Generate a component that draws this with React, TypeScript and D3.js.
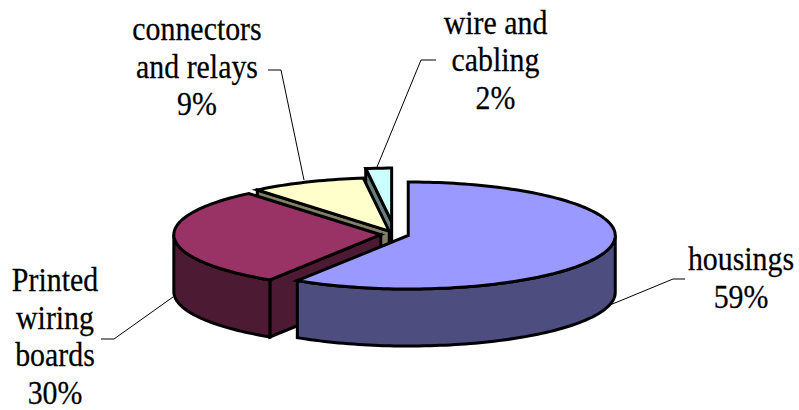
import React from 'react';
import * as d3 from 'd3';

// data
const labels = [['housings'], ['Printed', 'wiring', 'boards'], ['connectors', 'and relays'], ['wire and', 'cabling']];
const percents = [59, 30, 9, 2];
const explode = [14, 14, 14, 50];
const topColors = ['#9999ff', '#993366', '#ffffcc', '#ccffff'];
const sideColors = ['#4d4d80', '#4d1a33', '#808066', '#668080'];

// label layout
const labelX = [741, 55, 197, 495.5];
const labelY = [270, 291, 40, 33.5];
const leaders: [number, number][][] = [
  [[610, 305], [673, 279], [685, 279]],
  [[173, 297], [114, 339], [101, 339]],
  [[304, 180], [281, 70], [268, 70]],
  [[377, 167], [421, 60], [436, 60]],
];

const width = 799;
const height = 410;
const cx = 394.8;
const cy = 234.5;
const rx = 207;
const ry = 53.5;
const depth = 57;
const lineH = 37.7;

const pie = d3.pie<number>().value(d => d).sort(null);
const line = d3.line<[number, number]>();

const App: React.FC = () => {
  const slices = pie(percents).map((s, i) => {
    const mid = (s.startAngle + s.endAngle) / 2;
    const ox = cx + explode[i] * Math.sin(mid);
    const oy = cy - explode[i] * Math.cos(mid) * (ry / rx);
    const pt = (a: number, dy = 0): [number, number] => [ox + rx * Math.sin(a), oy - ry * Math.cos(a) + dy];
    const arcPts = (a0: number, a1: number, dy = 0) => {
      const n = Math.max(2, Math.ceil(Math.abs(a1 - a0) * 40));
      return d3.range(n + 1).map(k => pt(a0 + ((a1 - a0) * k) / n, dy));
    };
    const apex: [number, number] = [ox, oy];
    const top = line([apex, ...arcPts(s.startAngle, s.endAngle)]) + 'Z';
    const faces: string[] = [];
    // cut faces, drawn only when they turn towards the viewer
    const cut = (a: number) =>
      line([apex, pt(a), pt(a, depth), [ox, oy + depth]]) + 'Z';
    if (Math.sin(s.startAngle) < 0) faces.push(cut(s.startAngle));
    // outer rim, only the front half of the ellipse shows
    const a0 = Math.max(s.startAngle, Math.PI / 2);
    const a1 = Math.min(s.endAngle, (3 * Math.PI) / 2);
    if (a1 > a0) {
      faces.push(line([...arcPts(a0, a1), ...arcPts(a1, a0, depth)]) + 'Z');
    }
    return { top, faces, i };
  });

  // painter's order: back slices first
  const order = [3, 2, 1, 0];

  return (
    <svg width={width} height={height} style={{ position: 'absolute', left: 0, top: 0, background: '#fff' }}>
      {leaders.map((l, i) => (
        <path key={i} d={line(l) || ''} fill="none" stroke="#000" strokeWidth={1} />
      ))}
      {order.map(i => (
        <g key={i} stroke="#000" strokeWidth={3} strokeLinejoin="miter">
          {slices[i].faces.map((d, k) => (
            <path key={k} d={d} fill={sideColors[i]} />
          ))}
          <path d={slices[i].top} fill={topColors[i]} />
        </g>
      ))}
      {labels.map((rows, i) =>
        [...rows, `${percents[i]}%`].map((r, k) => (
          <text
            key={`${i}-${k}`}
            textAnchor="middle"
            fontFamily="'Liberation Serif'"
            fontSize={33}
            fill="#000"
            stroke="#000"
            strokeWidth={0.25}
            transform={`translate(${labelX[i]},${labelY[i] + k * lineH}) scale(0.905,1)`}
          >
            {r}
          </text>
        ))
      )}
    </svg>
  );
};

export default App;
